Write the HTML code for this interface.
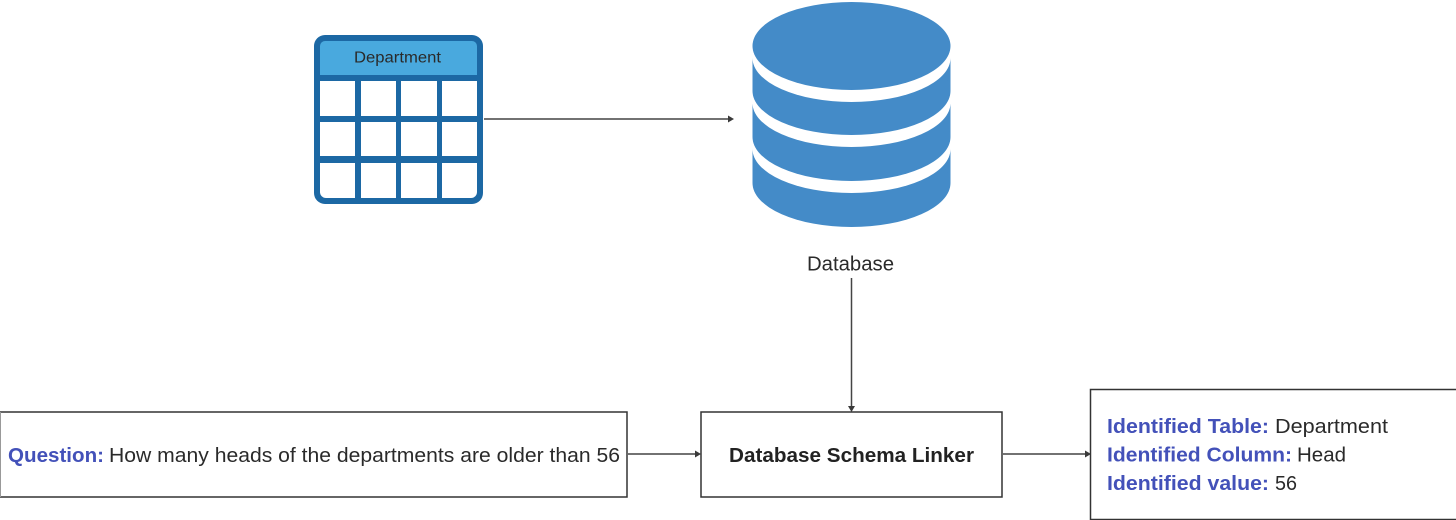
<!DOCTYPE html>
<html lang="en">
<head>
<meta charset="utf-8">
<title>Database Schema Linker</title>
<style>
html,body{margin:0;padding:0;background:#fff;width:1456px;height:520px;overflow:hidden}
svg{display:block}
text{font-family:"Liberation Sans",Arial,sans-serif;fill:#2a2a2a;}
.b{font-weight:700;fill:#222}
.q{font-weight:700;fill:#4351b9}
</style>
</head>
<body>
<svg width="1456" height="520" viewBox="0 0 1456 520" xmlns="http://www.w3.org/2000/svg">
  <!-- table icon -->
  <rect x="314" y="35" width="169" height="169" rx="11" fill="#1c68a4"/>
  <path d="M320 75V46a5 5 0 0 1 5-5H472a5 5 0 0 1 5 5V75Z" fill="#49a9de"/>
  <g fill="#fff">
    <rect x="320" y="81" width="35" height="35"/><rect x="361" y="81" width="35" height="35"/><rect x="401" y="81" width="36" height="35"/><rect x="442" y="81" width="35" height="35"/>
    <rect x="320" y="122" width="35" height="34"/><rect x="361" y="122" width="35" height="34"/><rect x="401" y="122" width="36" height="34"/><rect x="442" y="122" width="35" height="34"/>
    <path d="M320 163H355V198H326a6 6 0 0 1-6-6Z"/><rect x="361" y="163" width="35" height="35"/><rect x="401" y="163" width="36" height="35"/><path d="M442 163H477V192a6 6 0 0 1-6 6H442Z"/>
  </g>
  <text x="354" y="62.500" font-size="15.500" textLength="87" lengthAdjust="spacingAndGlyphs">Department</text>

  <!-- database icon -->
  <g fill="#448bc8">
    <rect x="752.500" y="149" width="198" height="34"/><ellipse cx="851.500" cy="183" rx="99" ry="44"/>
    <ellipse cx="851.500" cy="149" rx="99" ry="44" fill="#fff"/>
    <rect x="752.500" y="104" width="198" height="33"/><ellipse cx="851.500" cy="137" rx="99" ry="44"/>
    <ellipse cx="851.500" cy="103" rx="99" ry="44" fill="#fff"/>
    <rect x="752.500" y="58" width="198" height="33"/><ellipse cx="851.500" cy="91" rx="99" ry="44"/>
    <ellipse cx="851.500" cy="58" rx="99" ry="44" fill="#fff"/>
    <ellipse cx="851.500" cy="46" rx="99" ry="44"/>
  </g>
  <text x="807" y="270.500" font-size="20.500" textLength="87" lengthAdjust="spacingAndGlyphs">Database</text>

  <!-- boxes -->
  <g fill="#fff" stroke="#333" stroke-width="1.500">
    <rect x="0" y="412" width="627" height="85" stroke="none"/>
    <path d="M0 412H627V497H0"/>
    <rect x="701" y="412" width="301" height="85"/>
    <rect x="1090.500" y="389.500" width="370" height="130"/>
  </g>
  <path d="M0.500 412V497" stroke="#999" stroke-width="1" fill="none"/>

  <!-- connectors -->
  <g stroke="#444" stroke-width="1.500" fill="none">
    <path d="M484 119H729"/>
    <path d="M851.500 278V407"/>
    <path d="M628 454H696"/>
    <path d="M1003 454H1086"/>
  </g>
  <g fill="#3a3a3a">
    <path d="M734 119l-6-3.500v7Z"/>
    <path d="M851.500 412l-3.500-6h7Z"/>
    <path d="M701 454l-6-3.500v7Z"/>
    <path d="M1091 454l-6-3.500v7Z"/>
  </g>

  <!-- labels -->
  <text class="q" x="8" y="462" font-size="20.500" textLength="96" lengthAdjust="spacingAndGlyphs">Question:</text>
  <text x="109" y="462" font-size="20.500" textLength="511" lengthAdjust="spacingAndGlyphs">How many heads of the departments are older than 56</text>

  <text class="b" x="729" y="462" font-size="20.500" textLength="245" lengthAdjust="spacingAndGlyphs">Database Schema Linker</text>

  <text class="q" x="1107" y="433" font-size="20.500" textLength="162" lengthAdjust="spacingAndGlyphs">Identified Table:</text>
  <text x="1275" y="433" font-size="20.500" textLength="113" lengthAdjust="spacingAndGlyphs">Department</text>
  <text class="q" x="1107" y="461.500" font-size="20.500" textLength="185" lengthAdjust="spacingAndGlyphs">Identified Column:</text>
  <text x="1297" y="461.500" font-size="20.500" textLength="49" lengthAdjust="spacingAndGlyphs">Head</text>
  <text class="q" x="1107" y="490" font-size="20.500" textLength="162" lengthAdjust="spacingAndGlyphs">Identified value:</text>
  <text x="1275" y="490" font-size="20.500" textLength="22" lengthAdjust="spacingAndGlyphs">56</text>
</svg>
</body>
</html>
